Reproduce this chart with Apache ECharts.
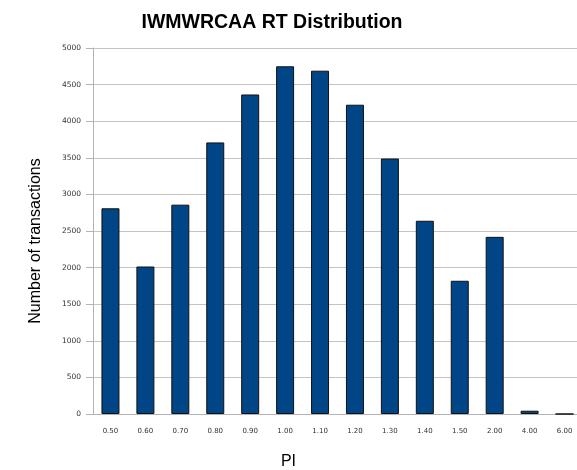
<!DOCTYPE html>
<html>
<head>
<meta charset="utf-8">
<script src="https://cdn.jsdelivr.net/npm/echarts@6/dist/echarts.min.js"></script>
<style>
  html, body { margin: 0; padding: 0; background: #fff; }
  #chart { width: 577px; height: 470px; }
</style>
</head>
<body>
<div id="chart"></div>
<script>
// PI categories and transaction counts
var piLabels = ["0.50", "0.60", "0.70", "0.80", "0.90", "1.00", "1.10", "1.20", "1.30", "1.40", "1.50", "2.00", "4.00", "6.00"];
var txCounts = [2810, 2015, 2860, 3710, 4365, 4750, 4690, 4225, 3490, 2640, 1820, 2420, 45, 0];
var yTicks = [0, 500, 1000, 1500, 2000, 2500, 3000, 3500, 4000, 4500, 5000];

var chart = echarts.init(document.getElementById('chart'));
chart.setOption({
  animation: false,
  title: {
    text: 'IWMWRCAA RT Distribution',
    left: 267,
    top: 8,
    textAlign: 'center',
    textStyle: { fontFamily: 'Liberation Sans', fontSize: 19.5, fontWeight: 'bold', color: '#000' }
  },
  grid: { left: 93, right: -5, top: 48, bottom: 56, outerBoundsMode: 'none' },
  xAxis: {
    type: 'category',
    data: piLabels,
    name: 'PI',
    nameLocation: 'middle',
    nameGap: 40,
    nameTextStyle: { fontFamily: 'Liberation Sans', fontSize: 16, color: '#000', padding: [0, 98, 0, 0] },
    axisLine: { lineStyle: { color: '#b3b3b3' } },
    axisTick: { length: 5, lineStyle: { color: '#b3b3b3' } },
    axisLabel: { margin: 14, fontFamily: 'DejaVu Sans', fontSize: 7, color: '#333', interval: 0 }
  },
  yAxis: {
    type: 'value',
    min: yTicks[0],
    max: yTicks[yTicks.length - 1],
    interval: 500,
    name: 'Number of transactions',
    nameLocation: 'middle',
    nameGap: 49,
    nameTextStyle: { fontFamily: 'Liberation Sans', fontSize: 16, color: '#000', padding: [0, 20, 0, 0] },
    axisLine: { show: true, lineStyle: { color: '#b3b3b3' } },
    axisTick: { show: true, length: 7, lineStyle: { color: '#b3b3b3' } },
    axisLabel: {
      margin: 12, fontFamily: 'DejaVu Sans', fontSize: 7.5, color: '#333',
      formatter: function (v) { return String(v); }
    },
    splitLine: { lineStyle: { color: '#c4c4c4', width: 1 } }
  },
  series: [{
    type: 'bar',
    data: txCounts,
    barWidth: 18,
    itemStyle: { color: '#004586', borderColor: '#111', borderWidth: 1 }
  }]
});
</script>
</body>
</html>
